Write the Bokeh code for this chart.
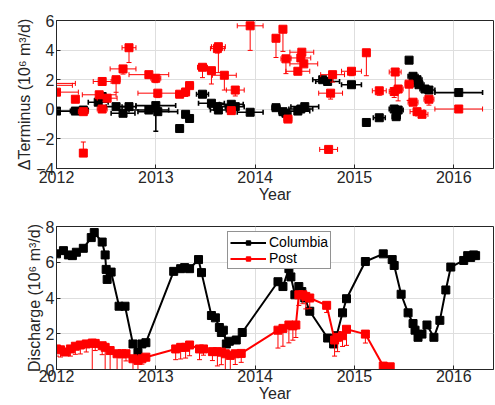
import numpy as np
from bokeh.plotting import figure
from bokeh.layouts import column
from bokeh.models import Legend, LegendItem, Range1d, FixedTicker
from bokeh.embed import file_html
from bokeh.resources import INLINE

# ---------------- top panel: terminus change ----------------
post_t = [2011.94, 2011.94, 2012.00, 2012.19, 2012.27, 2012.27, 2012.43, 2012.46, 2012.46, 2012.51,
          2012.60, 2012.67, 2012.73, 2012.93, 2013.00, 2013.02, 2013.24, 2013.30, 2013.34, 2013.47,
          2013.56, 2013.62, 2013.63, 2013.69, 2013.80, 2013.76, 2013.95, 2014.21, 2014.28, 2014.31,
          2014.47, 2014.46, 2014.49, 2014.43, 2014.33, 2014.78, 2014.76, 2014.74, 2014.97, 2015.12,
          2015.25, 2015.40, 2015.41, 2015.44, 2015.55, 2015.59, 2015.63, 2015.68, 2015.75, 2016.05]
post_dterm = [1.75, 1.62, 1.16, 0.68, -0.16, -2.96, 0.98, 1.88, 0.02, 0.75,
              2.00, 2.73, 4.16, 2.34, 2.10, 1.09, 1.02, 1.17, 1.60, 2.84,
              2.61, 4.10, 4.23, 2.30, 1.30, -0.09, 5.64, 4.80, 5.41, 3.41,
              3.86, 3.47, 3.07, 2.57, -0.66, 2.34, 1.09, -2.71, 2.57, 3.82,
              1.25, 1.20, 2.52, 1.37, 1.70, 0.48, -0.16, -0.34, 0.68, 0.02]
post_terr_t = [0.25, 0.22, 0.22, 0.03, 0.05, 0.03, 0.17, 0.09, 0.05, 0.10,
               0.04, 0.13, 0.07, 0.20, 0.05, 0.20, 0.04, 0.04, 0.04, 0.05,
               0.04, 0.07, 0.07, 0.12, 0.09, 0.04, 0.13, 0.03, 0.03, 0.05,
               0.12, 0.10, 0.14, 0.12, 0.04, 0.12, 0.12, 0.09, 0.10, 0.02,
               0.07, 0.05, 0.06, 0.05, 0.04, 0.05, 0.07, 0.06, 0.05, 0.24]
post_terr_lo = [0, 0, 0.15, 0.1, 0.1, 0.1, 0.2, 0.2, 0.1, 0.1,
                0.85, 0.35, 1.0, 0.2, 0.3, 0.3, 0.1, 0.3, 0.2, 0.7,
                0.9, 0.3, 1.75, 1.0, 0.4, 0.1, 1.66, 1.3, 1.5, 1.0,
                0.1, 0.1, 0.1, 0.2, 0.1, 0.5, 0.4, 0.1, 0.3, 1.55,
                0.3, 0.4, 1.15, 0.8, 1.1, 0.1, 0.1, 0.1, 0.4, 0.1]
post_terr_hi = [0, 0, 0.15, 0.1, 0.1, 0.75, 0.1, 0.1, 0.1, 0.1,
                0.1, 0.1, 0.1, 0.1, 0.1, 0.1, 0.1, 0.1, 0.1, 0.1,
                0.1, 0.1, 0.1, 0.1, 0.1, 0.1, 0.1, 0.1, 0.1, 0.1,
                0.1, 0.1, 0.1, 0.1, 0.1, 0.1, 0.1, 0.1, 0.1, 0.1,
                0.1, 0.1, 0.1, 0.1, 0.1, 0.1, 0.1, 0.1, 0.1, 0.1]

col_t = [2012.00, 2012.19, 2012.27, 2012.42, 2012.46, 2012.60, 2012.67, 2012.73, 2012.93, 2013.00,
         2013.02, 2013.24, 2013.30, 2013.34, 2013.47, 2013.56, 2013.62, 2013.63, 2013.76, 2013.80,
         2013.95, 2014.21, 2014.28, 2014.31, 2014.43, 2014.46, 2014.50, 2014.68, 2014.73, 2014.97,
         2015.12, 2015.25, 2015.40, 2015.42, 2015.44, 2015.55, 2015.59, 2015.63, 2015.65, 2015.71,
         2015.75, 2016.05]
col_dterm = [-0.12, -0.12, -0.05, 0.48, 0.86, 0.18, -0.27, 0.18, -0.05, 0.25,
             -0.16, -1.30, -0.34, -0.62, 1.02, 0.41, 0.18, -0.05, 0.34, 0.18,
             -0.20, 0.11, -0.16, -0.27, -0.12, 0.02, 0.18, 2.00, 1.88, 1.66,
             -0.89, -0.57, 0.02, -0.50, -0.05, 3.32, 2.23, 2.00, 1.66, 1.37,
             1.30, 1.13]
col_terr_t = [0.15, 0.05, 0.05, 0.10, 0.05, 0.10, 0.12, 0.07, 0.20, 0.20,
              0.20, 0.03, 0.03, 0.03, 0.06, 0.13, 0.08, 0.08, 0.12, 0.09,
              0.13, 0.04, 0.04, 0.05, 0.12, 0.12, 0.14, 0.10, 0.12, 0.10,
              0.03, 0.06, 0.05, 0.04, 0.05, 0.03, 0.05, 0.05, 0.05, 0.05,
              0.06, 0.24]
col_terr_lo = [0.1, 0.1, 0.1, 0.1, 0.1, 0.1, 0.1, 0.1, 0.1, 1.73,
               0.1, 0.1, 0.1, 0.1, 0.1, 0.1, 0.1, 0.1, 0.1, 0.1,
               0.1, 0.1, 0.1, 0.1, 0.1, 0.1, 0.1, 0.1, 0.1, 0.1,
               0.1, 0.1, 0.1, 0.1, 0.1, 0.1, 0.1, 0.1, 0.1, 0.1,
               0.1, 0.1]
col_terr_hi = [0.1] * 42

# ---------------- bottom panel: discharge ----------------
col_q_t = [2012.00, 2012.07, 2012.12, 2012.16, 2012.20, 2012.27, 2012.35, 2012.38, 2012.46, 2012.49,
           2012.50, 2012.51, 2012.55, 2012.63, 2012.69, 2012.77, 2012.82, 2012.86, 2012.90, 2013.18,
           2013.25, 2013.29, 2013.34, 2013.43, 2013.46, 2013.56, 2013.60, 2013.64, 2013.66, 2013.68,
           2013.71, 2013.74, 2013.81, 2013.87, 2014.23, 2014.28, 2014.34, 2014.36, 2014.40, 2014.44,
           2014.47, 2014.50, 2014.55, 2014.73, 2014.79, 2014.82, 2014.88, 2014.92, 2015.11, 2015.29,
           2015.38, 2015.40, 2015.47, 2015.54, 2015.59, 2015.61, 2015.64, 2015.68, 2015.73, 2015.80,
           2015.86, 2015.92, 2015.97, 2016.10, 2016.14, 2016.17, 2016.20, 2016.22]
col_q = [6.47, 6.65, 6.41, 6.37, 6.56, 6.78, 7.38, 7.66, 7.13, 6.41,
         5.60, 5.04, 5.45, 3.54, 3.54, 1.43, 0.95, 1.43, 1.50, 5.49,
         5.64, 5.70, 5.64, 6.15, 5.42, 3.02, 2.89, 2.35, 2.07, 2.20,
         1.43, 1.58, 1.65, 2.07, 4.91, 4.64, 5.64, 5.18, 4.18, 4.64,
         4.36, 4.00, 3.26, 1.76, 1.43, 1.89, 3.17, 3.96, 6.04, 6.47,
         6.15, 5.82, 4.21, 3.17, 2.57, 2.20, 1.80, 1.98, 2.49, 1.80,
         2.75, 4.45, 5.73, 6.10, 6.37, 6.27, 6.41, 6.37]

post_q_t = [2012.00, 2012.04, 2012.09, 2012.14, 2012.19, 2012.24, 2012.30, 2012.36, 2012.39, 2012.46,
            2012.49, 2012.54, 2012.61, 2012.66, 2012.70, 2012.77, 2012.82, 2012.86, 2012.90, 2013.20,
            2013.25, 2013.30, 2013.34, 2013.44, 2013.48, 2013.57, 2013.62, 2013.66, 2013.70, 2013.75,
            2013.80, 2013.86, 2014.23, 2014.28, 2014.34, 2014.38, 2014.41, 2014.44, 2014.48, 2014.51,
            2014.55, 2014.72, 2014.80, 2014.83, 2014.88, 2014.92, 2015.11, 2015.29, 2015.36]
post_q = [1.15, 1.10, 0.98, 1.15, 1.30, 1.37, 1.43, 1.48, 1.46, 1.33,
          1.24, 1.06, 0.88, 0.88, 0.88, 0.60, 0.51, 0.60, 0.69, 1.15,
          1.24, 1.24, 1.37, 1.15, 1.15, 1.00, 1.00, 0.97, 0.88, 0.79,
          0.88, 0.90, 2.20, 2.30, 2.49, 2.44, 2.49, 4.18, 4.18, 4.09,
          4.00, 3.59, 1.65, 1.80, 1.89, 2.25, 1.98, 0.19, 0.15]
post_q_lo = [0.4, 0.4, 0.2, 0.4, 0.45, 0.5, 0.45, 1.48, 0.4, 0.5,
             1.24, 1.06, 0.88, 0.88, 0.4, 0.6, 0.51, 0.3, 0.2, 0.6,
             0.65, 0.6, 0.6, 0.6, 0.35, 0.5, 0.8, 0.7, 0.88, 0.79,
             0.6, 0.5, 1.0, 1.0, 1.0, 0.8, 0.7, 0.6, 0.5, 0.7,
             0.6, 0.4, 0.9, 0.8, 0.6, 0.9, 0.5, 0.05, 0.05]

x_ticks = [2012, 2013, 2014, 2015, 2016]
top_y_ticks = [-4, -2, 0, 2, 4, 6]
bot_y_ticks = [0, 2, 4, 6, 8]

RED = "#ff0000"
BLACK = "#000000"
FONT = "Liberation Sans"


def style(p, yticks, ylabel, xstand=2):
    p.xaxis.ticker = FixedTicker(ticks=x_ticks)
    p.yaxis.ticker = FixedTicker(ticks=yticks)
    for ax in (p.xaxis[0], p.yaxis[0]):
        ax.major_label_text_font = FONT
        ax.major_label_text_font_size = "16px"
        ax.major_label_text_color = "#262626"
        ax.major_label_text_line_height = 0.9
        ax.axis_label_text_font = FONT
        ax.axis_label_text_font_size = "16px"
        ax.axis_label_text_font_style = "normal"
        ax.axis_label_text_color = "#262626"
        ax.axis_label_text_line_height = 0.9
        ax.major_tick_in = 4
        ax.major_tick_out = 0
        ax.minor_tick_line_color = None
        ax.axis_line_color = "#262626"
        ax.major_tick_line_color = "#262626"
        ax.major_label_standoff = 2
        ax.axis_label_standoff = 0
    p.xaxis.major_label_standoff = xstand
    p.xaxis.axis_label = "Year"
    p.yaxis.axis_label = ylabel
    p.grid.grid_line_color = "#dedede"
    p.grid.grid_line_width = 1
    p.outline_line_color = "#262626"
    p.outline_line_alpha = 1
    p.background_fill_color = "white"
    p.border_fill_color = "white"


def errbars(p, x, y, xerr, ylo, yhi, color, lw):
    x = np.array(x); y = np.array(y)
    xerr = np.array(xerr); ylo = np.array(ylo); yhi = np.array(yhi)
    p.segment(x0=x - xerr, y0=y, x1=x + xerr, y1=y, line_color=color, line_width=lw)
    p.scatter(x=np.concatenate([x - xerr, x + xerr]), y=np.concatenate([y, y]),
              marker="dash", angle=np.pi / 2, size=5, line_color=color, line_width=lw)
    p.segment(x0=x, y0=y - ylo, x1=x, y1=y + yhi, line_color=color, line_width=lw)
    p.scatter(x=np.concatenate([x, x]), y=np.concatenate([y - ylo, y + yhi]),
              marker="dash", size=5, line_color=color, line_width=lw)


p1 = figure(width=494, height=206, output_backend="svg", toolbar_location=None,
            x_range=Range1d(2012, 2016.40), y_range=Range1d(-4, 6),
            min_border_left=56, min_border_right=1, min_border_top=20, min_border_bottom=38)
style(p1, top_y_ticks, "ΔTerminus (10⁶ m³/d)")
errbars(p1, col_t, col_dterm, col_terr_t, col_terr_lo, col_terr_hi, BLACK, 1.6)
p1.scatter(col_t, col_dterm, marker="square", size=8, fill_color=BLACK, line_color=BLACK)
errbars(p1, post_t, post_dterm, post_terr_t, post_terr_lo, post_terr_hi, RED, 1)
p1.scatter(post_t, post_dterm, marker="square", size=8, fill_color=RED, line_color=RED)

p2 = figure(width=494, height=198, output_backend="svg", toolbar_location=None,
            x_range=Range1d(2012, 2016.40), y_range=Range1d(0, 8),
            min_border_left=56, min_border_right=1, min_border_top=20, min_border_bottom=32)
style(p2, bot_y_ticks, "Discharge (10⁶ m³/d)", xstand=0)
pq_t = np.array(post_q_t); pq = np.array(post_q); pq_lo = np.array(post_q_lo)
l1 = p2.line(col_q_t, col_q, line_color=BLACK, line_width=2)
s1 = p2.scatter(col_q_t, col_q, marker="square", size=8, fill_color=BLACK, line_color=BLACK)
p2.segment(x0=pq_t, y0=pq - pq_lo, x1=pq_t, y1=pq, line_color=RED, line_width=1)
p2.scatter(x=pq_t, y=pq - pq_lo, marker="dash", size=5, line_color=RED, line_width=1)
l2 = p2.line(post_q_t, post_q, line_color=RED, line_width=2)
s2 = p2.scatter(post_q_t, post_q, marker="square", size=8, fill_color=RED, line_color=RED)

legend = Legend(items=[LegendItem(label="Columbia", renderers=[l1, s1]),
                       LegendItem(label="Post", renderers=[l2, s2])],
                location=(171, 100))
legend.label_text_font = FONT
legend.label_text_font_size = "14px"
legend.label_text_line_height = 0.9
legend.label_text_color = BLACK
legend.glyph_width = 36
legend.glyph_height = 11
legend.label_height = 11
legend.label_standoff = 3
legend.spacing = 0
legend.padding = 2
legend.margin = 0
legend.border_line_color = "#262626"
legend.border_line_width = 1
legend.background_fill_alpha = 1
p2.add_layout(legend)

layout = column(p1, p2, spacing=0)
open("out.html", "w").write(file_html(layout, INLINE))
